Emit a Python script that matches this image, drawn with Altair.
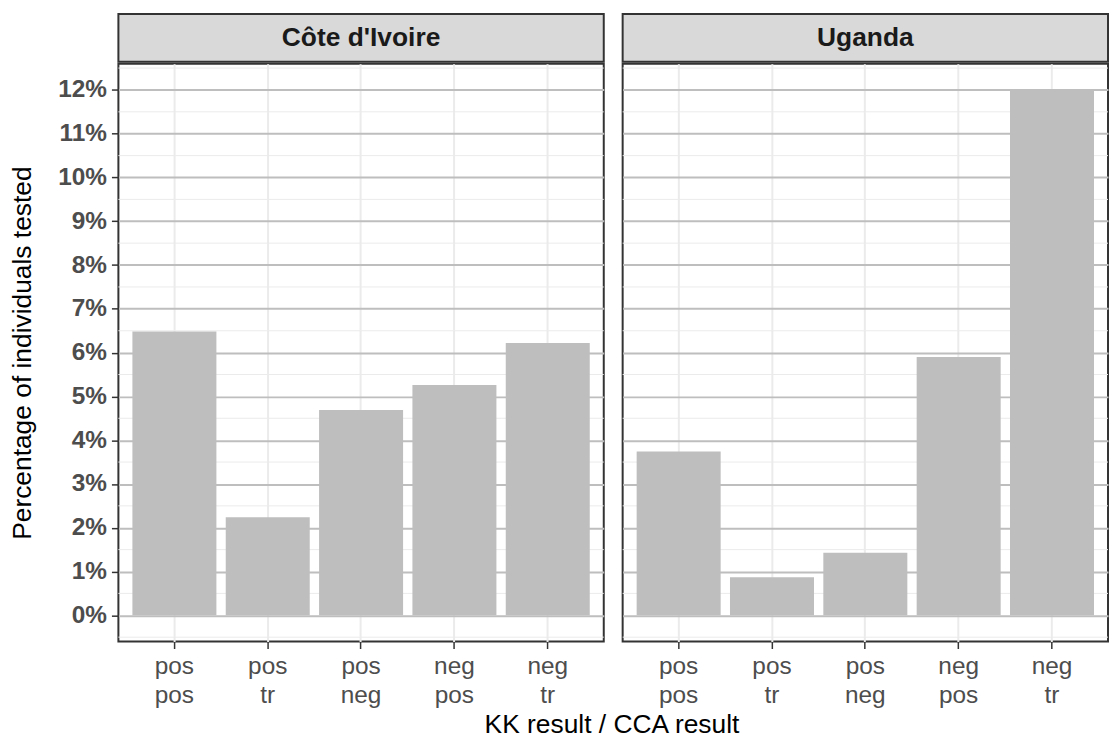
import altair as alt
import pandas as pd

countries = ["Côte d'Ivoire", "Uganda"]
categories = ["pos/pos", "pos/tr", "pos/neg", "neg/pos", "neg/tr"]
civ_values = [6.48, 2.24, 4.69, 5.26, 6.22]
uga_values = [3.74, 0.87, 1.43, 5.90, 12.0]
major_breaks = list(range(0, 13))
minor_breaks = [b + 0.5 for b in range(-1, 13)]

W, H, STRIP_H = 488, 581, 48
FONT = "Liberation Sans"


def panel(country, values, show_y):
    df = pd.DataFrame({"cat": categories, "pct": values})
    xenc = alt.X(
        "cat:N", sort=categories, title=None,
        scale=alt.Scale(domain=categories, paddingInner=0.1, paddingOuter=0.15),
        axis=alt.Axis(labelExpr="split(datum.label, '/')", labelAngle=0, grid=True,
                      gridColor="#EBEBEB", gridWidth=2, bandPosition=0.5,
                      tickColor="#333333", tickWidth=1.5, tickSize=7, domain=False,
                      labelFont=FONT, labelFontSize=24.5, labelColor="#4D4D4D",
                      labelLineHeight=29.5, labelPadding=6),
    )
    yscale = alt.Scale(domain=[-0.6, 12.6], nice=False, zero=False)
    if show_y:
        yaxis = alt.Axis(values=major_breaks, labelExpr="datum.value + '%'",
                         title="Percentage of individuals tested", grid=True,
                         gridColor="#BEBEBE", gridWidth=2, tickColor="#333333",
                         tickWidth=1.5, tickSize=7, domain=False, labelFont=FONT,
                         labelFontSize=24.5, labelFontWeight="bold", labelColor="#4D4D4D",
                         labelPadding=5, titleFont=FONT, titleFontSize=26.5,
                         titleFontWeight="normal", titleColor="black", titlePadding=21)
    else:
        yaxis = alt.Axis(values=major_breaks, labels=False, ticks=False, domain=False,
                         title=None, grid=True, gridColor="#BEBEBE", gridWidth=2)
    minor = alt.Chart(pd.DataFrame({"pct": minor_breaks})).mark_rule(
        color="#EBEBEB", strokeWidth=1
    ).encode(y=alt.Y("pct:Q", scale=yscale, axis=yaxis))
    bars = alt.Chart(df).mark_bar(color="#BEBEBE").encode(
        x=xenc, y=alt.Y("pct:Q", scale=yscale, axis=yaxis)
    )
    body = alt.layer(minor, bars).properties(
        width=W, height=H,
        view=alt.ViewBackground(fill="white", stroke="#333333", strokeWidth=2),
    )
    strip = alt.Chart(pd.DataFrame({"country": [country]})).mark_text(
        font=FONT, fontSize=26.5, fontWeight="bold", color="#1A1A1A"
    ).encode(text="country:N", x=alt.value(W / 2), y=alt.value(STRIP_H / 2)).properties(
        width=W, height=STRIP_H,
        view=alt.ViewBackground(fill="#D9D9D9", stroke="#333333", strokeWidth=2),
    )
    return alt.vconcat(strip, body, spacing=0)


chart = alt.hconcat(
    panel(countries[0], civ_values, True),
    panel(countries[1], uga_values, False),
    spacing=15,
).properties(
    padding={"left": 0, "top": 3, "right": 0, "bottom": 0},
    background="white",
    title=alt.TitleParams("KK result / CCA result", orient="bottom", anchor="middle",
                          font=FONT, fontSize=26.5, fontWeight="normal", color="black",
                          offset=4, dx=53),
).configure_view(stroke="#333333", strokeWidth=2)

chart.save("out.html", embed_options={"renderer": "svg", "actions": False})
